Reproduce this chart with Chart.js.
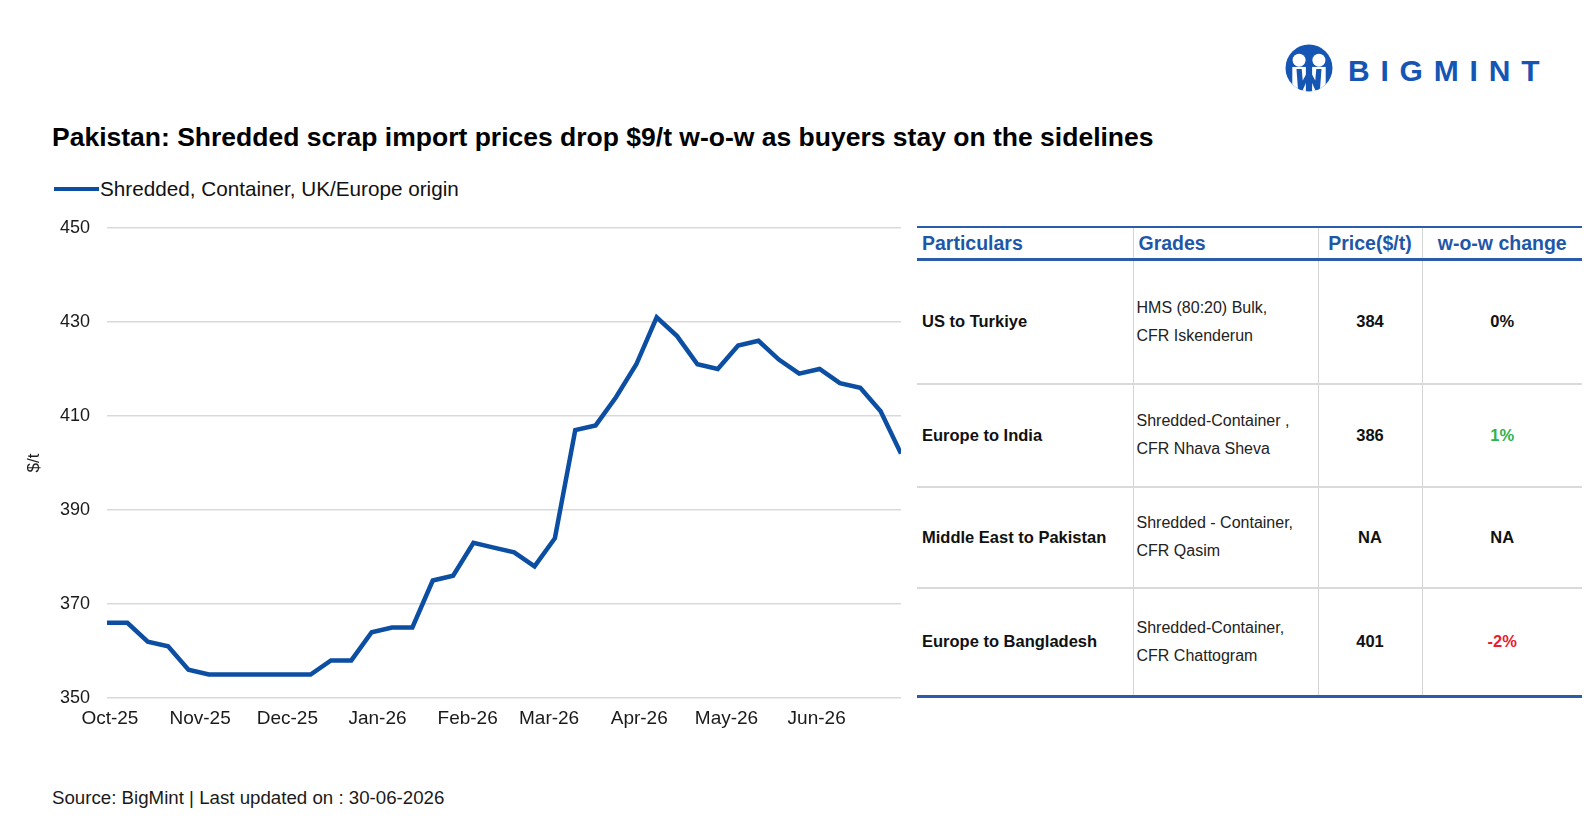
<!DOCTYPE html>
<html>
<head>
<meta charset="utf-8">
<title>Pakistan shredded scrap import prices</title>
<script src="https://cdn.jsdelivr.net/npm/chart.js@4.4.1/dist/chart.umd.min.js"></script>
<style>
  html, body { margin: 0; padding: 0; background: #fff; }
  body { width: 1593px; height: 838px; position: relative; overflow: hidden;
         font-family: 'Liberation Sans', Arial, sans-serif; color: #111; }
  .abs { position: absolute; white-space: nowrap; }
  #title { left: 52px; top: 121px; font-size: 26.5px; line-height: 32px; font-weight: bold; color: #000; }
  #legend { left: 54px; top: 177px; height: 24px; display: flex; align-items: center; font-size: 20.7px; line-height: 24px; }
  #legend .swatch { width: 45px; height: 4.5px; background: #0b4ea2; margin-right: 1px; }
  #source { left: 52px; top: 787px; font-size: 18.7px; line-height: 22px; color: #1a1a1a; }
  #chartBox { position: absolute; left: 0; top: 200px; width: 905px; height: 540px; }
  #logo { left: 1285px; top: 44px; display: flex; align-items: center; }
  #logo span { font-size: 30px; font-weight: bold; color: #1556b4; letter-spacing: 10.8px; margin-left: 15px; margin-top: 6px; }

  table.prices { position: absolute; left: 917px; top: 226px; width: 665px; border-collapse: collapse; table-layout: fixed; }
  table.prices th { height: 30px; font-size: 19.5px; font-weight: bold; color: #1f57a8; padding: 0 5px;
                    border-top: 2px solid #2a5caa; border-bottom: 3px solid #2a5caa; }
  table.prices td { font-size: 16.5px; padding: 0 5px; border-top: 2px solid #dadada; vertical-align: middle; }
  table.prices tr:last-child td { border-bottom: 3px solid #2a5caa; }
  table.prices th + th, table.prices td + td { border-left: 1.5px solid #d4d4d4; }
  table.prices th.l { text-align: left; }
  table.prices td.part { font-weight: bold; }
  table.prices td.grade { font-size: 16px; line-height: 28px; padding-left: 3px; color: #222; }
  table.prices td.num { font-weight: bold; text-align: center; }
</style>
</head>
<body>

<div id="logo" class="abs">
  <svg width="48" height="48" viewBox="0 0 46 46">
    <defs><clipPath id="disc"><circle cx="23" cy="23" r="22.5"/></clipPath></defs>
    <g clip-path="url(#disc)">
      <rect x="0" y="0" width="46" height="46" fill="#1556b4"/>
      <rect x="7" y="22" width="13" height="26" fill="#fff"/>
      <rect x="26" y="22" width="13" height="26" fill="#fff"/>
      <path d="M11 24 L12.5 44 L17 44 L23 31 L29 44 L33.5 44 L35 24 L30 24 L29 35 L23 24 L17 35 L16 24 Z" fill="#1556b4"/>
    </g>
    <circle cx="13.5" cy="15.5" r="6.2" fill="#fff"/>
    <circle cx="32.5" cy="15.5" r="6.2" fill="#fff"/>
  </svg>
  <span>BIGMINT</span>
</div>

<div id="title" class="abs">Pakistan: Shredded scrap import prices drop $9/t w-o-w as buyers stay on the sidelines</div>

<div id="legend" class="abs"><div class="swatch"></div><span id="legendText"></span></div>

<div id="chartBox"><canvas id="priceChart"></canvas></div>

<table class="prices" id="priceTable">
  <colgroup><col style="width:216px"><col style="width:185px"><col style="width:104px"><col style="width:160px"></colgroup>
  <thead><tr id="tableHead"></tr></thead>
  <tbody id="tableBody"></tbody>
</table>

<div id="source" class="abs">Source: BigMint | Last updated on : 30-06-2026</div>

<script>
/* weekly price series */
const seriesName = 'Shredded, Container, UK/Europe origin';
const weekDates = [
  '2025-09-30', '2025-10-07', '2025-10-14', '2025-10-21', '2025-10-28',
  '2025-11-04', '2025-11-11', '2025-11-18', '2025-11-25',
  '2025-12-02', '2025-12-09', '2025-12-16', '2025-12-23', '2025-12-30',
  '2026-01-06', '2026-01-13', '2026-01-20', '2026-01-27',
  '2026-02-03', '2026-02-10', '2026-02-17', '2026-02-24',
  '2026-03-03', '2026-03-10', '2026-03-17', '2026-03-24', '2026-03-31',
  '2026-04-07', '2026-04-14', '2026-04-21', '2026-04-28',
  '2026-05-05', '2026-05-12', '2026-05-19', '2026-05-26',
  '2026-06-02', '2026-06-09', '2026-06-16', '2026-06-23', '2026-06-30'
];
const prices = [
  366, 366, 362, 361, 356,
  355, 355, 355, 355,
  355, 355, 358, 358, 364,
  365, 365, 375, 376,
  383, 382, 381, 378,
  384, 407, 408, 414, 421,
  431, 427, 421, 420,
  425, 426, 422, 419,
  420, 417, 416, 411, 402
];

/* axis ticks */
const monthTickDates = ['2025-10-01', '2025-11-01', '2025-12-01', '2026-01-01', '2026-02-01',
                        '2026-03-01', '2026-04-01', '2026-05-01', '2026-06-01'];
const monthTickLabels = ['Oct-25', 'Nov-25', 'Dec-25', 'Jan-26', 'Feb-26', 'Mar-26', 'Apr-26', 'May-26', 'Jun-26'];
const yTicks = [350, 370, 390, 410, 430, 450];

/* side table */
const tableHeaders = ['Particulars', 'Grades', 'Price($/t)', 'w-o-w change'];
const routes = ['US to Turkiye', 'Europe to India', 'Middle East to Pakistan', 'Europe to Bangladesh'];
const grades = [
  ['HMS (80:20) Bulk,', 'CFR Iskenderun'],
  ['Shredded-Container ,', 'CFR Nhava Sheva'],
  ['Shredded - Container,', 'CFR Qasim'],
  ['Shredded-Container,', 'CFR Chattogram']
];
const routePrices = ['384', '386', 'NA', '401'];
const wowChanges = ['0%', '1%', 'NA', '-2%'];
const rowHeights = [124, 103, 101, 109];

const LINE_BLUE = '#0b4ea2';
const FONT = "'Liberation Sans', Arial, sans-serif";

// days since first week, used as a linear x value (no date adapter offline)
const DAY = 86400000;
const t0 = Date.parse(weekDates[0]);
const dayOf = d => (Date.parse(d) - t0) / DAY;

function changeColor(v) {
  if (v.startsWith('-')) return '#e8202a';
  if (v === '0%' || v === 'NA') return '#111';
  return '#2eb34d';
}

function buildTable() {
  document.getElementById('tableHead').innerHTML = tableHeaders
    .map((h, i) => `<th class="${i < 2 ? 'l' : ''}">${h}</th>`).join('');
  document.getElementById('tableBody').innerHTML = routes.map((r, i) => `
    <tr style="height:${rowHeights[i]}px">
      <td class="part">${r}</td>
      <td class="grade">${grades[i].join('<br>')}</td>
      <td class="num">${routePrices[i]}</td>
      <td class="num" style="color:${changeColor(wowChanges[i])}">${wowChanges[i]}</td>
    </tr>`).join('');
}

function renderChart() {
  const ctx = document.getElementById('priceChart');
  const tickDays = monthTickDates.map(dayOf);

  new Chart(ctx, {
    type: 'line',
    data: {
      datasets: [{
        label: seriesName,
        data: weekDates.map((d, i) => ({ x: dayOf(d), y: prices[i] })),
        borderColor: LINE_BLUE,
        backgroundColor: LINE_BLUE,
        borderWidth: 4.5,
        pointRadius: 0,
        tension: 0,
        fill: false
      }]
    },
    options: {
      responsive: true,
      maintainAspectRatio: false,
      animation: false,
      layout: { padding: { top: 28, right: 4, left: 0, bottom: 0 } },
      plugins: { legend: { display: false }, tooltip: { enabled: false } },
      scales: {
        x: {
          type: 'linear',
          min: 0,
          max: dayOf(weekDates[weekDates.length - 1]),
          afterBuildTicks: s => { s.ticks = tickDays.map(v => ({ value: v })); },
          afterFit: s => { s.height = 42; },
          grid: { display: false, drawTicks: false },
          border: { display: false },
          ticks: {
            autoSkip: false, maxRotation: 0, padding: 9, color: '#1a1a1a',
            font: { size: 19, family: FONT },
            callback: (v, i) => monthTickLabels[i]
          }
        },
        y: {
          min: 350,
          max: 450,
          afterBuildTicks: s => { s.ticks = yTicks.map(v => ({ value: v })); },
          afterFit: s => { s.width = 107; },
          grid: { color: '#d9d9d9', lineWidth: 1.5, drawTicks: false },
          border: { display: false },
          ticks: { padding: 17, color: '#1a1a1a', font: { size: 18, family: FONT } },
          title: {
            display: true, text: '$/t', color: '#1a1a1a',
            font: { size: 17, family: FONT }, padding: { top: 24, bottom: 0 }
          }
        }
      }
    }
  });
}

document.getElementById('legendText').textContent = seriesName;
buildTable();
renderChart();
</script>
</body>
</html>
